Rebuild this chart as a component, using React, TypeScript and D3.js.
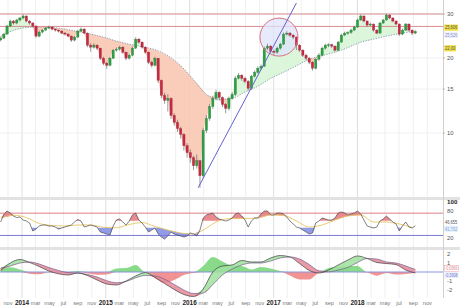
import React from 'react';
import * as d3 from 'd3';

const W = 460;
const H = 308;
const startDate = new Date(2013, 8, 30);
const stepDays = 14;

const opens = [23.6, 24.01, 24.92, 26.84, 28.11, 27.60, 28.38, 28.91, 29.45, 28.11,
  27.60, 26.84, 24.46, 25.39, 25.86, 26.35, 26.59, 26.10, 25.86, 25.62,
  25.15, 24.92, 24.46, 23.57, 24.24, 25.62, 26.10, 25.15, 22.50, 22.09,
  22.50, 21.89, 19.95, 19.04, 18.69, 19.95, 21.48, 21.68, 22.09, 21.09,
  19.95, 20.51, 21.89, 23.79, 23.14, 22.09, 21.09, 19.22, 18.69, 19.95,
  16.26, 14.15, 13.51, 13.76, 11.76, 11.02, 10.42, 9.86, 8.90, 8.34,
  7.96, 7.39, 7.74, 6.74, 10.23, 11.43, 12.78, 13.76, 14.55, 13.89,
  13.02, 12.54, 13.76, 14.28, 16.57, 17.04, 16.57, 16.11, 15.10, 16.88,
  17.52, 18.18, 18.52, 21.89, 22.30, 21.28, 21.09, 21.89, 22.71, 24.92,
  25.15, 24.69, 24.24, 22.50, 21.48, 20.51, 19.95, 19.22, 18.18, 19.76,
  20.51, 21.89, 22.50, 22.60, 22.30, 21.48, 23.14, 24.69, 25.15, 25.30,
  25.86, 26.59, 28.38, 29.45, 28.11, 27.09, 27.34, 25.86, 25.15, 27.60,
  28.38, 29.72, 28.91, 28.11, 27.34, 24.92, 25.86, 27.34, 25.86, 25.15];

const closes = [24.01, 24.92, 26.84, 28.11, 27.60, 28.38, 28.91, 29.45, 28.11, 27.60,
  26.84, 24.46, 25.39, 25.86, 26.35, 26.59, 26.10, 25.86, 25.62, 25.15,
  24.92, 24.46, 23.57, 24.24, 25.62, 26.10, 25.15, 22.50, 22.09, 22.50,
  21.89, 19.95, 19.04, 18.69, 19.95, 21.48, 21.68, 22.09, 21.09, 19.95,
  20.51, 21.89, 23.79, 23.14, 22.09, 21.09, 19.22, 18.69, 19.95, 16.26,
  14.15, 13.51, 13.76, 11.76, 11.02, 10.42, 9.86, 8.90, 8.34, 7.96,
  7.39, 7.74, 6.74, 10.23, 11.43, 12.78, 13.76, 14.55, 13.89, 13.02,
  12.54, 13.76, 14.28, 16.57, 17.04, 16.57, 16.11, 15.10, 16.88, 17.52,
  18.18, 18.52, 21.89, 22.30, 21.28, 21.09, 21.89, 22.71, 24.92, 25.15,
  24.69, 24.24, 22.50, 21.48, 20.51, 19.95, 19.22, 18.18, 19.76, 20.51,
  21.89, 22.50, 22.60, 22.30, 21.48, 23.14, 24.69, 25.15, 25.30, 25.86,
  26.59, 28.38, 29.45, 28.11, 27.09, 27.34, 25.86, 25.15, 27.60, 28.38,
  29.72, 28.91, 28.11, 27.34, 24.92, 25.86, 27.34, 25.86, 25.15, 25.53];

const highs = [24.3, 25.2, 27.1, 28.5, 28.4, 28.7, 29.2, 29.9, 29.6, 28.4,
  27.8, 27.0, 25.7, 26.1, 26.6, 26.9, 26.8, 26.3, 26.0, 25.8,
  25.4, 25.1, 24.6, 24.5, 25.9, 26.5, 26.3, 25.3, 22.9, 22.9,
  22.7, 22.0, 20.2, 19.3, 20.2, 21.7, 22.0, 22.4, 22.3, 21.2,
  20.8, 22.2, 24.2, 24.0, 23.3, 22.3, 21.2, 19.5, 20.2, 20.0,
  16.4, 14.5, 14.3, 13.9, 12.0, 11.3, 10.6, 10.0, 9.1, 8.6,
  8.1, 8.2, 7.8, 10.5, 11.8, 13.1, 14.1, 14.9, 14.7, 14.0,
  13.2, 14.0, 14.6, 16.9, 17.4, 17.2, 16.8, 16.3, 17.1, 17.8,
  18.5, 18.8, 22.2, 22.8, 22.5, 21.6, 22.2, 23.0, 25.3, 25.6,
  25.4, 24.9, 24.4, 22.7, 21.7, 20.8, 20.2, 19.4, 20.0, 20.9,
  22.2, 22.8, 22.9, 22.8, 22.5, 23.4, 25.0, 25.5, 25.6, 26.2,
  26.9, 28.7, 29.9, 29.6, 28.3, 27.7, 27.5, 26.1, 27.9, 28.7,
  30.1, 29.9, 29.1, 28.3, 27.5, 26.2, 27.6, 27.5, 26.0, 25.8];

const lows = [23.3, 23.8, 24.8, 26.6, 27.2, 27.3, 28.0, 28.6, 27.8, 27.2,
  26.5, 24.1, 24.2, 25.1, 25.6, 26.1, 25.8, 25.5, 25.3, 24.9,
  24.6, 24.2, 23.2, 23.3, 24.1, 25.4, 24.9, 22.1, 21.2, 21.8,
  21.5, 19.6, 18.7, 18.1, 18.5, 19.8, 21.2, 21.4, 20.8, 19.6,
  19.7, 20.3, 21.7, 22.8, 21.8, 20.8, 18.9, 18.3, 18.5, 15.9,
  13.8, 13.1, 12.2, 11.4, 10.7, 10.1, 9.5, 8.5, 7.96, 7.6,
  7.1, 7.2, 6.03, 6.6, 10.0, 11.2, 12.5, 13.5, 13.5, 12.7,
  12.0, 12.3, 13.6, 14.1, 16.4, 16.2, 15.8, 14.8, 14.9, 16.7,
  17.3, 17.9, 18.4, 21.5, 20.9, 20.6, 20.8, 21.6, 22.5, 24.6,
  24.3, 23.8, 21.5, 21.1, 20.2, 19.6, 18.9, 17.8, 18.0, 19.5,
  20.3, 21.6, 22.1, 21.9, 21.2, 21.3, 23.0, 24.5, 24.8, 25.0,
  25.6, 26.4, 28.2, 27.8, 26.7, 26.8, 25.5, 24.9, 25.0, 27.4,
  28.2, 28.6, 27.8, 27.0, 24.5, 24.7, 25.7, 25.5, 24.7, 24.9];

// moving average, one value every 4 candles
const maStep = 4;
const maValues = [24.4, 25.8, 26.47, 26.59, 26.47, 26.10, 25.50, 24.92, 24.24, 23.36, 22.71,
  22.19, 21.58, 20.42, 18.61, 16.34, 14.28, 13.64, 13.77, 14.61, 15.40, 16.57, 17.52, 18.60,
  19.76, 20.42, 21.09, 22.00, 23.13, 23.79, 24.46, 25.03, 25.50];

const rsiValues = [55.2, 72.0, 79.8, 75.3, 68.6, 65.2, 66.4, 59.6, 57.4, 52.9,
  35.0, 39.5, 46.2, 48.4, 48.4, 46.2, 46.2, 43.9, 39.5, 41.7,
  43.9, 46.2, 48.4, 55.2, 60.8, 57.4, 43.9, 46.2, 48.4, 46.2,
  43.9, 32.7, 30.5, 28.2, 26.0, 46.2, 59.6, 61.9, 55.2, 48.4,
  57.4, 70.9, 75.3, 59.6, 52.9, 43.9, 32.7, 37.2, 41.7, 28.2,
  21.5, 17.0, 23.8, 32.7, 28.2, 26.0, 23.8, 21.5, 23.8, 30.5,
  28.2, 23.8, 37.2, 64.1, 70.9, 73.1, 75.3, 66.4, 61.9, 59.6,
  57.4, 59.6, 64.1, 73.1, 75.3, 68.6, 59.6, 43.9, 57.4, 64.1,
  64.1, 73.1, 79.8, 79.8, 70.9, 70.9, 75.3, 75.3, 73.1, 66.4,
  57.4, 50.7, 43.9, 41.7, 37.2, 32.7, 28.2, 30.5, 52.9, 57.4,
  64.1, 61.9, 59.6, 59.6, 64.1, 75.3, 77.6, 75.3, 70.9, 73.1,
  75.3, 79.8, 73.1, 59.6, 46.2, 43.9, 41.7, 43.9, 57.4, 61.9,
  68.6, 61.9, 55.2, 50.7, 35.0, 46.2, 55.2, 43.9, 41.7, 46.66];

// RSI signal, one value every 4 candles
const rsiSigStep = 4;
const rsiSignal = [64.1, 70.2, 65.2, 51.8, 47.3, 46.2, 48.4, 48.4, 43.3, 42.2, 49.5, 54.0,
  45.1, 37.2, 30.5, 28.2, 41.7, 58.5, 63.0, 63.0, 64.1, 70.9, 69.7, 57.4, 43.9, 48.4, 59.6,
  68.6, 70.9, 55.2, 55.2, 50.7, 43.0];

// MACD, one value every 3 candles
const macdStep = 3;
const macdLine = [0.17, 1.00, 1.39, 1.06, 0.61, 0.11, -0.20, -0.33, -0.11, -0.39,
  -0.89, -1.33, -1.44, -1.00, -0.44, -0.06, -0.61, -1.28, -1.94, -2.50,
  -2.72, -1.89, 0.00, 0.67, 0.78, 1.28, 1.11, 1.11, 1.56, 1.83,
  1.67, 0.94, 0.17, -0.11, 0.22, 0.78, 1.33, 1.78, 1.50, 1.06,
  0.94, 0.83, 0.22, -0.11];
const macdSignal = [0.44, 0.67, 1.00, 1.11, 0.89, 0.50, 0.17, -0.07, -0.11, -0.28,
  -0.56, -0.97, -1.19, -1.06, -0.64, -0.39, -0.44, -0.80, -1.39, -2.00,
  -2.39, -2.33, -1.39, -0.33, 0.33, 0.78, 1.00, 1.00, 1.22, 1.56,
  1.67, 1.44, 0.83, 0.13, 0.03, 0.22, 0.50, 1.06, 1.50, 1.44,
  1.11, 1.00, 0.67, 0.28];
const macdHist = [0.44, 0.52, 0.28, -0.20, -0.26, -0.02, -0.04, -0.11, 0.11, -0.17,
  -0.30, -0.27, 0.39, 0.44, 0.78, 0.00, -0.67, -1.22, -0.89, -0.33,
  -0.11, 0.67, 1.67, 1.17, 0.72, 0.67, 0.28, 0.56, 0.39, 0.11,
  -0.39, -0.83, -0.83, -0.11, 0.44, 0.58, 0.67, 0.67, -0.06, -0.41,
  -0.11, -0.28, -0.22, -0.08];

const priceTicks = [30, 20, 15, 10];
const resistanceLevels = [30, 26.75];
const rsiTicks = [100, 80, 20];
const rsiBands = [75, 25];
const macdTicks = [2, 1, -1, -2];
const circleCenter = { date: new Date(2017, 0, 24), value: 24.24 };
const trendStart = { date: new Date(2016, 1, 7), value: 6.03 };
const trendEnd = { date: new Date(2017, 3, 10), value: 33.2 };
const priceBoxes = [
  { text: '25,606', at: 26.45, bg: '#f2df45', fg: '#555', border: 'none' },
  { text: '25,526', at: 24.75, bg: '#eef0fb', fg: '#8e93d6', border: 'none' },
  { text: '22,00', at: 21.85, bg: '#f2df45', fg: '#555', border: 'none' },
];
const rsiBoxes = [
  { text: '46,655', at: 55.8, bg: '#ffffff', fg: '#555', border: 'none' },
  { text: '41,702', at: 40.0, bg: '#e6f0fb', fg: '#7fa6d8', border: 'none' },
];
const macdBoxes = [
  { text: '-0,0866', at: 0.38, bg: '#ffffff', fg: '#e08a94', border: '#e8a0a8' },
  { text: '-0,3908', at: -0.34, bg: '#eef0fb', fg: '#6f78d6', border: 'none' },
];

const FONT = 'Liberation Sans, Arial, sans-serif';

export default function App() {
  const dates = closes.map((_, i) => d3.timeDay.offset(startDate, stepDays * i));
  const x = d3.scaleTime().domain([new Date(2014, 0, 1), new Date(2018, 0, 1)]).range([22, 357.5]);
  const yP = d3.scaleLog().domain([10, 30]).range([133, 14]);
  const yR = d3.scaleLinear().domain([0, 100]).range([246.6, 202]);
  const yM = d3.scaleLinear().domain([-2, 2]).range([290, 254]);

  const plotRight = 443;
  const sampled = (arr: number[], step: number, i: number) => {
    const k = i / step;
    const lo = Math.min(Math.floor(k), arr.length - 1);
    const hi = Math.min(lo + 1, arr.length - 1);
    const t = k - lo;
    return arr[lo] + (arr[hi] - arr[lo]) * Math.min(t, 1);
  };

  const pf = closes.map((c, i) => ({
    x: x(dates[i]),
    yc: yP(c),
    ym: yP(sampled(maValues, maStep, i)),
  }));
  const greenArea = d3.area<any>().x((d) => d.x).y0((d) => d.ym).y1((d) => Math.min(d.yc, d.ym))(pf) || '';
  const redArea = d3.area<any>().x((d) => d.x).y0((d) => d.ym).y1((d) => Math.max(d.yc, d.ym))(pf) || '';
  const maPts = maValues.map((v, k) => [x(dates[k * maStep]), yP(v)] as [number, number]);
  const maPath = d3.line().curve(d3.curveMonotoneX)(maPts) || '';

  const rp = rsiValues.map((v, i) => ({ x: x(dates[i]), yr: yR(v), ys: yR(sampled(rsiSignal, rsiSigStep, i)) }));
  const rsiPath = d3.line<any>().x((d) => d.x).y((d) => d.yr)(rp) || '';
  const sigPts = rsiSignal.map((v, k) => [x(dates[k * rsiSigStep]), yR(v)] as [number, number]);
  const rsiSigPath = d3.line().curve(d3.curveMonotoneX)(sigPts) || '';
  const rsiRed = d3.area<any>().x((d) => d.x).y0((d) => d.ys).y1((d) => Math.min(d.yr, d.ys))(rp) || '';
  const rsiBlue = d3.area<any>().x((d) => d.x).y0((d) => d.ys).y1((d) => Math.max(d.yr, d.ys))(rp) || '';

  const mp = macdLine.map((v, k) => ({
    x: x(dates[Math.min(k * macdStep, dates.length - 1)]),
    m: yM(v),
    s: yM(macdSignal[k]),
    h: macdHist[k],
  }));
  const cm = d3.curveMonotoneX;
  const macdPath = d3.line<any>().curve(cm).x((d) => d.x).y((d) => d.m)(mp) || '';
  const macdSigPath = d3.line<any>().curve(cm).x((d) => d.x).y((d) => d.s)(mp) || '';
  const macdGreen = d3.area<any>().curve(cm).x((d) => d.x).y0((d) => d.s).y1((d) => Math.min(d.m, d.s))(mp) || '';
  const macdRed = d3.area<any>().curve(cm).x((d) => d.x).y0((d) => d.s).y1((d) => Math.max(d.m, d.s))(mp) || '';
  const histPos = d3.area<any>().curve(cm).x((d) => d.x).y0(yM(0)).y1((d) => yM(Math.max(0, d.h)))(mp) || '';
  const histNeg = d3.area<any>().curve(cm).x((d) => d.x).y0(yM(0)).y1((d) => yM(Math.min(0, d.h)))(mp) || '';

  const monthTicks = d3.timeMonth.range(new Date(2013, 10, 1), new Date(2018, 11, 2), 2);
  const mfmt = d3.timeFormat('%b');

  const bw = 2.3;

  const box = (b: any, y: number, key: string) => {
    const tl = Math.min(b.text.length * 2.05, 12.6);
    return (
      <g key={key}>
        <rect x={444.2} y={y - 3.1} width={tl + 1.6} height={6.2} fill={b.bg}
          stroke={b.border === 'none' ? 'none' : b.border} strokeWidth={0.5} />
        <text x={445} y={y + 1.8} fontSize={4.8} fill={b.fg} fontFamily={FONT}
          textLength={tl} lengthAdjust="spacingAndGlyphs">{b.text}</text>
      </g>
    );
  };

  return (
    <svg width={W} height={H} style={{ position: 'absolute', left: 0, top: 0 }} xmlns="http://www.w3.org/2000/svg">
      <defs>
        <clipPath id="cMain"><rect x={0} y={0} width={plotRight} height={197} /></clipPath>
        <clipPath id="cRsi"><rect x={0} y={200} width={plotRight} height={47} /></clipPath>
        <clipPath id="cRsiHi"><rect x={0} y={200} width={plotRight} height={yR(58) - 200} /></clipPath>
        <clipPath id="cRsiLo"><rect x={0} y={yR(42)} width={plotRight} height={247 - yR(42)} /></clipPath>
        <clipPath id="cMacd"><rect x={0} y={250} width={plotRight} height={48} /></clipPath>
      </defs>
      <rect x={0} y={0} width={W} height={H} fill="#ffffff" />

      {monthTicks.map((d, i) => (
        <line key={'vg' + i} x1={x(d)} x2={x(d)} y1={0} y2={298}
          stroke={d.getMonth() === 0 ? '#dedede' : '#efefef'} strokeWidth={1} />
      ))}
      {priceTicks.map((v) => (
        <line key={'hg' + v} x1={0} x2={plotRight} y1={yP(v)} y2={yP(v)} stroke="#f0f0f0" />
      ))}

      <rect x={0} y={197} width={W} height={3} fill="#e2e2e2" />
      <rect x={0} y={247} width={W} height={3} fill="#e2e2e2" />
      <line x1={plotRight + 0.5} x2={plotRight + 0.5} y1={0} y2={298} stroke="#d0d0d0" />

      <g clipPath="url(#cMain)">
        <path d={greenArea} fill="#d8f5d8" opacity={0.9} />
        <path d={redArea} fill="#f9c7b2" opacity={0.9} />
        <path d={maPath} fill="none" stroke="#8799ad" strokeWidth={0.9} strokeDasharray="1.3 1.3" />
        {resistanceLevels.map((v) => (
          <line key={'rl' + v} x1={0} x2={plotRight} y1={yP(v)} y2={yP(v)} stroke="#d98b8f" strokeWidth={1} />
        ))}
        <circle cx={x(circleCenter.date)} cy={yP(circleCenter.value)} r={19} fill="#dfe3fa" opacity={0.75} />
        {closes.map((c, i) => {
          const o = opens[i];
          const cx = x(dates[i]);
          const up = c >= o;
          const top = yP(Math.max(o, c));
          const bot = yP(Math.min(o, c));
          return (
            <g key={'cd' + i}>
              <line x1={cx} x2={cx} y1={yP(highs[i])} y2={yP(lows[i])} stroke="#555" strokeWidth={0.6} />
              <rect x={cx - bw / 2} y={top} width={bw} height={Math.max(bot - top, 0.8)}
                fill={up ? '#2f9e44' : '#c42a43'} stroke={up ? '#237a33' : '#9c1f33'} strokeWidth={0.3} />
            </g>
          );
        })}
        <circle cx={x(circleCenter.date)} cy={yP(circleCenter.value)} r={19} fill="none" stroke="#d87482" strokeWidth={1} />
        <line x1={x(trendStart.date)} y1={yP(trendStart.value)} x2={x(trendEnd.date)} y2={yP(trendEnd.value)}
          stroke="#6462cf" strokeWidth={1} />
      </g>

      <g clipPath="url(#cRsi)">
        <g clipPath="url(#cRsiHi)"><path d={rsiRed} fill="#e5747c" opacity={0.85} /></g>
        <g clipPath="url(#cRsiLo)"><path d={rsiBlue} fill="#7f8ce6" opacity={0.85} /></g>
        {rsiBands.map((v, i) => (
          <line key={'rb' + v} x1={0} x2={plotRight} y1={yR(v)} y2={yR(v)}
            stroke={i === 0 ? '#dd8086' : '#7a7ad8'} strokeWidth={1} />
        ))}
        <path d={rsiSigPath} fill="none" stroke="#e8c563" strokeWidth={0.9} />
        <path d={rsiPath} fill="none" stroke="#4a4a4a" strokeWidth={0.7} />
      </g>

      <g clipPath="url(#cMacd)">
        <path d={histPos} fill="#74d474" opacity={0.85} />
        <path d={histNeg} fill="#ee8080" opacity={0.85} />
        <line x1={0} x2={plotRight} y1={yM(0)} y2={yM(0)} stroke="#8a93e0" strokeWidth={1.2} />
        <path d={macdGreen} fill="#9fe09f" opacity={0.85} />
        <path d={macdRed} fill="#e48a98" opacity={0.85} />
        <path d={macdSigPath} fill="none" stroke="#7a5f8f" strokeWidth={0.7} />
        <path d={macdPath} fill="none" stroke="#3c3c3c" strokeWidth={0.7} />
      </g>

      {priceTicks.map((v) => (
        <g key={'pt' + v}>
          <line x1={plotRight} x2={plotRight + 2} y1={yP(v)} y2={yP(v)} stroke="#999" strokeWidth={0.6} />
          <text x={447} y={yP(v) + 2} fontSize={5.8} fill="#555" fontFamily={FONT}>{v}</text>
        </g>
      ))}
      {priceBoxes.map((b, i) => box(b, yP(b.at), 'pb' + i))}
      {rsiTicks.map((v) => (
        <text key={'rt' + v} x={447} y={yR(v) + 2} fontSize={v === 100 ? 6.2 : 5.8}
          fontWeight={v === 100 ? 'bold' : 'normal'} fill={v === 100 ? '#222' : '#555'} fontFamily={FONT}>{v}</text>
      ))}
      {rsiBoxes.map((b, i) => box(b, yR(b.at), 'rbx' + i))}
      {macdTicks.map((v) => (
        <text key={'mt' + v} x={447} y={yM(v) + 2} fontSize={5.8} fill="#555" fontFamily={FONT}>{v}</text>
      ))}
      {macdBoxes.map((b, i) => box(b, yM(b.at), 'mbx' + i))}

      {monthTicks.map((d, i) => {
        const isYear = d.getMonth() === 0;
        return (
          <text key={'ml' + i} x={x(d)} y={305} textAnchor="middle"
            fontSize={isYear ? 6.4 : 5.6} fontWeight={isYear ? 'bold' : 'normal'}
            fill={isYear ? '#222' : '#777'} fontFamily={FONT}>
            {isYear ? d.getFullYear() : mfmt(d).toLowerCase()}
          </text>
        );
      })}
    </svg>
  );
}
